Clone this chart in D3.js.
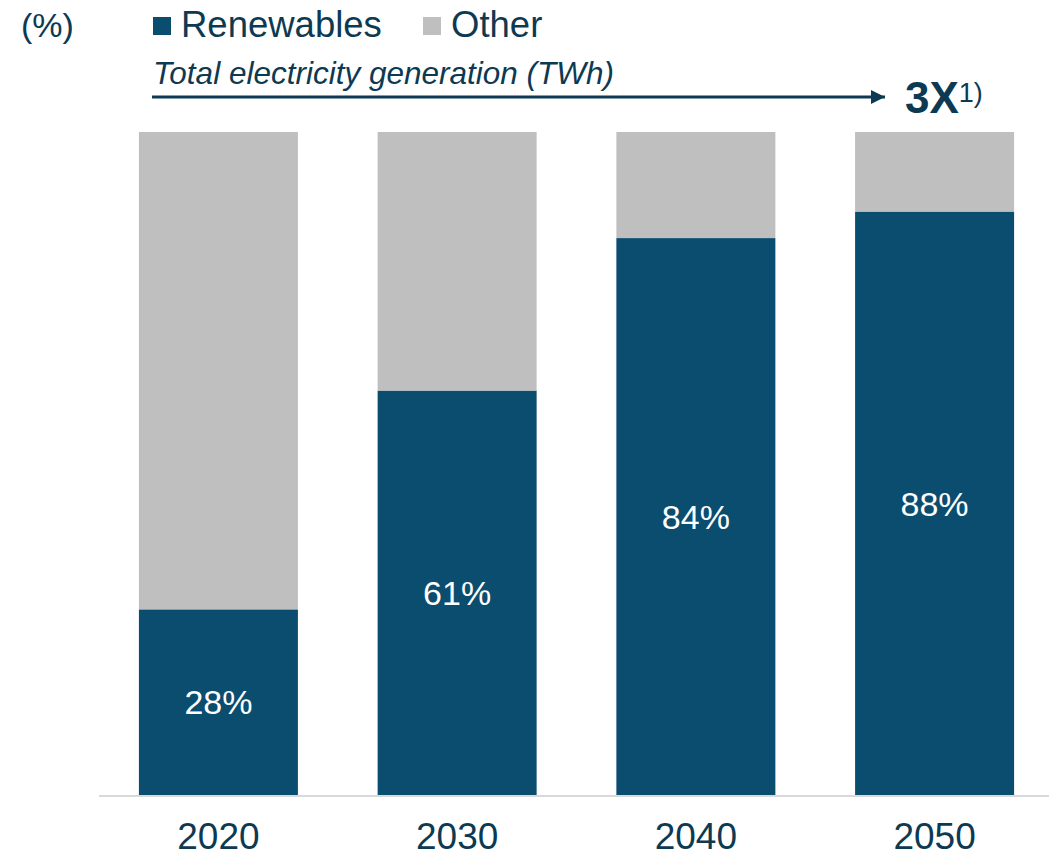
<!DOCTYPE html>
<html>
<head>
<meta charset="utf-8">
<script src="https://cdn.jsdelivr.net/npm/d3@7"></script>
<style>
  body { margin: 0; background: #fff; }
  text { font-family: "Liberation Sans", Arial, sans-serif; }
</style>
</head>
<body>
<div id="chart"></div>
<script>
var svgWidth = 1049;
var svgHeight = 857;

// data
var years = ["2020", "2030", "2040", "2050"];
var renewables = [28, 61, 84, 88];
var other = [72, 39, 16, 12];
var seriesNames = ["Renewables", "Other"];

var navy = "#0d3a52";
var barBlue = "#0a4d6e";
var grey = "#bfbfbf";

var svg = d3.select("#chart")
	.append("svg")
	.attr("width", svgWidth)
	.attr("height", svgHeight);

var xScale = d3.scaleBand()
	.domain(years)
	.range([100, 1053])
	.paddingInner(0.334)
	.paddingOuter(0.163);

var yScale = d3.scaleLinear()
	.domain([0, 100])
	.range([795, 132]);

var rows = years.map(function(y, i) {
	return { year: y, renewables: renewables[i], other: other[i] };
});

// stacked bars
var stack = d3.stack().keys(["renewables", "other"]);
var layers = stack(rows);
var colors = { renewables: barBlue, other: grey };

svg.append("g").selectAll("g")
	.data(layers)
	.enter()
	.append("g")
	.attr("fill", d => colors[d.key])
	.selectAll("rect")
	.data(d => d)
	.enter()
	.append("rect")
	.attr("x", d => xScale(d.data.year))
	.attr("width", xScale.bandwidth())
	.attr("y", d => yScale(d[1]))
	.attr("height", d => yScale(d[0]) - yScale(d[1]));

// value labels inside the renewables part
svg.append("g").selectAll("text")
	.data(rows)
	.enter()
	.append("text")
	.attr("x", d => xScale(d.year) + xScale.bandwidth() / 2)
	.attr("y", d => (yScale(0) + yScale(d.renewables)) / 2)
	.attr("dy", "0.36em")
	.attr("text-anchor", "middle")
	.attr("fill", "#fff")
	.style("font-size", "34px")
	.text(d => d.renewables + "%");

// baseline
svg.append("line")
	.attr("x1", 99)
	.attr("x2", 1049)
	.attr("y1", yScale(0) + 1)
	.attr("y2", yScale(0) + 1)
	.attr("stroke", "#d9d9d9")
	.attr("stroke-width", 2);

// x axis labels
var xAxis = svg.append("g")
	.attr("transform", "translate(0, 796)")
	.call(d3.axisBottom(xScale).tickSize(0).tickPadding(0));
xAxis.select(".domain").remove();
xAxis.selectAll("text")
	.attr("y", 53)
	.attr("dy", null)
	.attr("fill", navy)
	.style("font-family", "'Liberation Sans', Arial, sans-serif")
	.style("font-size", "37px");

// unit + legend
svg.append("text")
	.attr("x", 21)
	.attr("y", 37)
	.attr("fill", navy)
	.style("font-size", "34px")
	.text("(%)");

var legendX = [153, 423];
var legend = svg.append("g").selectAll("g")
	.data(seriesNames)
	.enter()
	.append("g")
	.attr("transform", (d, i) => `translate(${legendX[i]}, 0)`);
legend.append("rect")
	.attr("x", 0)
	.attr("y", 17)
	.attr("width", 18)
	.attr("height", 18)
	.attr("fill", (d, i) => i === 0 ? barBlue : grey);
legend.append("text")
	.attr("x", 28)
	.attr("y", 37)
	.attr("fill", navy)
	.style("font-size", "36.5px")
	.text(d => d);

// growth note with arrow
var defs = svg.append("defs");
defs.append("marker")
	.attr("id", "arrowHead")
	.attr("viewBox", "0 0 10 10")
	.attr("refX", 10)
	.attr("refY", 5)
	.attr("markerWidth", 16)
	.attr("markerHeight", 14)
	.attr("markerUnits", "userSpaceOnUse")
	.attr("orient", "auto")
	.append("path")
	.attr("d", "M0,0 L10,5 L0,10 Z")
	.attr("fill", navy);

svg.append("text")
	.attr("x", 153)
	.attr("y", 84)
	.attr("fill", navy)
	.style("font-size", "31.5px")
	.style("font-style", "italic")
	.text("Total electricity generation (TWh)");

svg.append("line")
	.attr("x1", 152)
	.attr("x2", 885)
	.attr("y1", 97)
	.attr("y2", 97)
	.attr("stroke", navy)
	.attr("stroke-width", 3)
	.attr("marker-end", "url(#arrowHead)");

var note = svg.append("text")
	.attr("x", 905)
	.attr("y", 113)
	.attr("fill", navy);
note.append("tspan")
	.style("font-size", "44px")
	.style("font-weight", "bold")
	.text("3X");
note.append("tspan")
	.attr("dy", -11)
	.style("font-size", "27px")
	.text("1)");
</script>
</body>
</html>
